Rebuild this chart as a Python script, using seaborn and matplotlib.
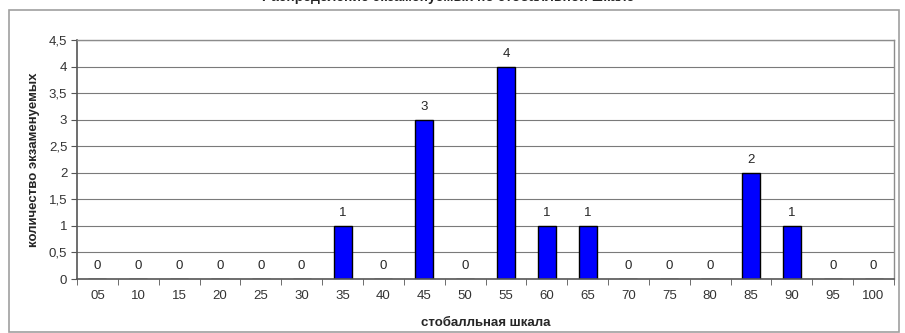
import matplotlib
matplotlib.use("Agg")
import matplotlib.pyplot as plt
from matplotlib.patches import Rectangle
import seaborn as sns
import pandas as pd

# данные
баллы = ["05", "10", "15", "20", "25", "30", "35", "40", "45", "50",
         "55", "60", "65", "70", "75", "80", "85", "90", "95", "100"]
количество = [0, 0, 0, 0, 0, 0, 1, 0, 3, 0, 4, 1, 1, 0, 0, 0, 2, 1, 0, 0]
y_ticks = [0, 0.5, 1, 1.5, 2, 2.5, 3, 3.5, 4, 4.5]
y_tick_labels = ["0", "0,5", "1", "1,5", "2", "2,5", "3", "3,5", "4", "4,5"]

sns.set_style("white")
plt.rcParams['font.family'] = ['Liberation Sans', 'DejaVu Sans']

df = pd.DataFrame({"балл": баллы, "n": количество})

fig = plt.figure(figsize=(9.05, 3.33), dpi=100)
W, H = 905, 333

# рамка вокруг диаграммы
fig.patches.append(Rectangle((9 / W, 1 / H), 890 / W, (H - 11) / H,
                             transform=fig.transFigure, fill=False,
                             edgecolor="#a0a0a0", linewidth=1.2))

# заголовок (обрезан сверху, как в оригинале)
fig.text(448 / W, 1 - 1.5 / H, "Распределение экзаменуемых по стобалльной шкале",
         ha="center", va="baseline", fontsize=10, fontweight="bold")

ax = fig.add_axes([77 / W, (H - 279) / H, (894 - 77) / W, (279 - 40) / H])
sns.barplot(data=df, x="балл", y="n", ax=ax, color="#0000ff",
            edgecolor="black", linewidth=1, width=0.44, saturation=1)

for i, v in enumerate(количество):
    ax.annotate(str(v), (i, v), xytext=(0, 5), textcoords="offset points",
                ha="center", va="bottom", fontsize=9.5)

ax.set_ylim(0, 4.5)
ax.set_xlim(-0.5, len(баллы) - 0.5)
ax.set_yticks(y_ticks)
ax.set_yticklabels(y_tick_labels, fontsize=9.5, color="#333333")
ax.yaxis.grid(True, color="#7a7a7a", linewidth=0.8)
ax.set_axisbelow(True)

# подписи по центру, тики на границах категорий
ax.set_xticks(range(len(баллы)))
ax.set_xticklabels(баллы, fontsize=9.5, color="#333333")
ax.tick_params(axis="x", length=0, pad=8)
ax.set_xticks([i - 0.5 for i in range(len(баллы) + 1)], minor=True)
ax.tick_params(axis="x", which="minor", length=4, direction="out", color="#555555")
ax.tick_params(axis="y", length=4, direction="out", color="#555555", pad=3)
ax.tick_params(left=True, bottom=False)
ax.tick_params(axis="x", which="minor", bottom=True)

for side in ["top", "right"]:
    ax.spines[side].set_color("#8c8c8c")
    ax.spines[side].set_linewidth(1)
for side in ["left", "bottom"]:
    ax.spines[side].set_color("#555555")
    ax.spines[side].set_linewidth(1.2)

ax.set_xlabel("стобалльная шкала", fontsize=9.5, fontweight="bold", labelpad=11)
ax.set_ylabel("количество экзаменуемых", fontsize=9.5, fontweight="bold", labelpad=6)

fig.savefig("out.png", dpi=100)
